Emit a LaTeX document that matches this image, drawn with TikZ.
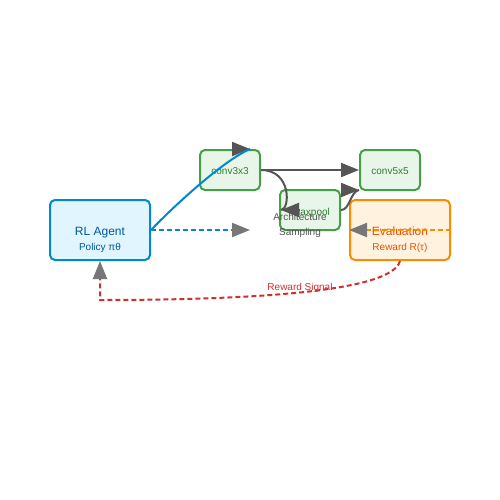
\documentclass[tikz,border=0pt]{standalone}
\usepackage{fontspec}
\setmainfont{Liberation Sans}
\usetikzlibrary{arrows.meta,calc}
\definecolor{bluefill}{HTML}{E1F5FE}
\definecolor{bluestroke}{HTML}{0288D1}
\definecolor{bluetext}{HTML}{01579B}
\definecolor{greenfill}{HTML}{E8F5E9}
\definecolor{greenstroke}{HTML}{43A047}
\definecolor{greentext}{HTML}{2E7D32}
\definecolor{orangefill}{HTML}{FFF3E0}
\definecolor{orangestroke}{HTML}{FB8C00}
\definecolor{orangetext}{HTML}{E65100}
\definecolor{redline}{HTML}{D32F2F}
\definecolor{darkgrey}{HTML}{555555}
\definecolor{lightgrey}{HTML}{777777}
\tikzset{
  box/.style={draw, line width=2pt, rounded corners=5pt, inner sep=0pt},
  agentbox/.style={box, fill=bluefill, draw=bluestroke, minimum width=100pt, minimum height=60pt},
  layerbox/.style={box, fill=greenfill, draw=greenstroke, minimum width=60pt, minimum height=40pt},
  evalbox/.style={box, fill=orangefill, draw=orangestroke, minimum width=100pt, minimum height=60pt},
  txt/.style={inner sep=0pt, anchor=base, font=\fontsize{10pt}{12pt}\selectfont},
  bigtxt/.style={txt, font=\fontsize{12pt}{14pt}\selectfont},
  headdark/.style={-{Triangle[length=18pt,width=14pt,color=darkgrey]}},
  headlight/.style={-{Triangle[length=18pt,width=14pt,color=lightgrey]}},
  headonly/.style={draw=darkgrey, line width=2pt, headdark},
  dash5/.style={dash pattern=on 5pt off 3pt},
}
\begin{document}
\begin{tikzpicture}[x=1pt,y=-1pt]
\useasboundingbox (0,0) rectangle (500,500);
\fill[white] (0,0) rectangle (500,500);
% boxes
\node[agentbox] (rl) at (100,230) {};
\node[layerbox] (c3) at (230,170) {};
\node[layerbox] (c5) at (390,170) {};
\node[layerbox] (mp) at (310,210) {};
\node[evalbox] (ev) at (400,230) {};
% box texts
\node[bigtxt, text=bluetext] (rlt) at (100,235.5) {RL Agent};
\node[txt, text=bluetext] (rls) at (100,250.5) {Policy πθ};
\node[txt, text=greentext] (c3t) at (230,174.5) {conv3x3};
\node[txt, text=greentext] (c5t) at (390,174.5) {conv5x5};
\node[txt, text=greentext] (mpt) at (311,215) {maxpool};
\node[bigtxt, text=orangetext] (evt) at (400,235.5) {Evaluation};
\node[txt, text=orangetext] (evs) at (400,250.5) {Reward R(τ)};
% free ends
\coordinate (c3top) at (250,149);
\coordinate (sample) at (250,230);
\coordinate (mpin) at ($(mp.west)+(2,0)$);
\coordinate (c5in) at ($(c5.south west)+(0,-1)$);
% arrowheads of the curved connectors
\path[headonly] ($(c3top)+(-18,0)$) -- (c3top);
\path[headonly] ($(mpin)+(18,0)$) -- (mpin);
\path[headonly] ($(c5in)+(-18,0)$) -- (c5in);
% edges
\draw[bluestroke, line width=2pt] (rl.east) .. controls (180,200) and (225,160) .. (c3top);
\draw[headlight, bluestroke, line width=2pt, dash5] (rl.east) -- (sample);
\draw[headdark, darkgrey, line width=2pt] (c3.east) -- (c5.west);
\draw[darkgrey, line width=2pt] (c3.east) .. controls (292,170) and (290,210) .. (mpin);
\draw[darkgrey, line width=2pt] (mp.east) .. controls (350,210) and (350,192) .. (c5in);
\draw[headlight, orangestroke, line width=2pt, dash5] (ev.east) -- (ev.west);
\draw[headlight, redline, line width=2pt, dash5] (ev.south) .. controls (392,292) and (250,300) .. (100,300) -- (rl.south);
% labels
\node[txt, text=darkgrey] (arch1) at (300,220) {Architecture};
\node[txt, text=darkgrey] (arch2) at (300,235) {Sampling};
\node[txt, text=redline] (rsig) at (300,290) {Reward Signal};
\end{tikzpicture}
\end{document}
